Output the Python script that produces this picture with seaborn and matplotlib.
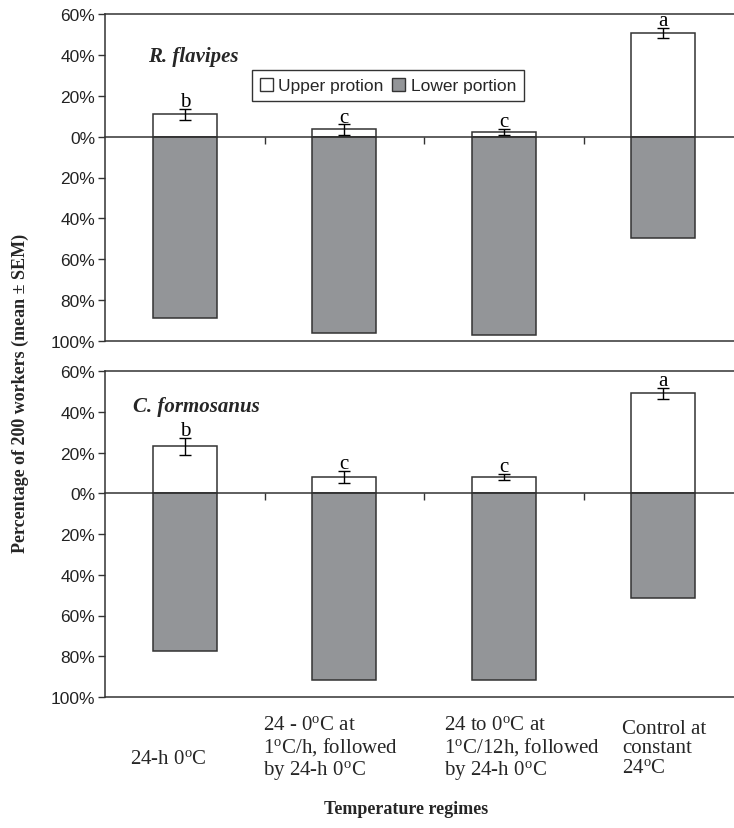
import matplotlib
matplotlib.use("Agg")
import matplotlib.pyplot as plt
import seaborn as sns
import pandas as pd
from matplotlib.patches import Patch
from matplotlib.ticker import FuncFormatter

# ---------------- data ----------------
regimes = ["24-h 0C", "24-0C 1C/h", "24-0C 1C/12h", "Control 24C"]
regime_labels = [
    "24-h 0$^{\\mathrm{o}}$C",
    "24 - 0$^{\\mathrm{o}}$C at\n1$^{\\mathrm{o}}$C/h, followed\nby 24-h 0$^{\\mathrm{o}}$C",
    "24 to 0$^{\\mathrm{o}}$C at\n1$^{\\mathrm{o}}$C/12h, followed\nby 24-h 0$^{\\mathrm{o}}$C",
    "Control at\nconstant\n24$^{\\mathrm{o}}$C",
]
rf_upper = [11.0, 3.5, 2.3, 50.8]
rf_upper_sem = [2.7, 2.5, 1.5, 2.3]
rf_lower = [88.6, 96.3, 96.9, 49.4]
rf_letters = ["b", "c", "c", "a"]

cf_upper = [23.0, 8.0, 8.0, 49.0]
cf_upper_sem = [4.1, 3.1, 1.6, 2.6]
cf_lower = [77.2, 91.6, 91.6, 51.2]
cf_letters = ["b", "c", "c", "a"]

species = ["R. flavipes", "C. formosanus"]
legend_labels = ["Upper protion", "Lower portion"]
y_ticks = [60, 40, 20, 0, -20, -40, -60, -80, -100]

# ---------------- style ----------------
sns.set_style("white")
plt.rcParams["font.family"] = ["Liberation Sans", "DejaVu Sans"]
plt.rcParams["mathtext.fontset"] = "custom"
plt.rcParams["mathtext.rm"] = "Liberation Serif"
plt.rcParams["mathtext.it"] = "Liberation Serif:italic"
plt.rcParams["mathtext.bf"] = "Liberation Serif:bold"

W, H = 734, 829
LINE = "#333333"
GRAY = "#939598"
fig = plt.figure(figsize=(W / 100, H / 100), dpi=100)


def px_axes(left, top, right, bottom):
    return fig.add_axes([left / W, 1 - bottom / H, (right - left) / W, (bottom - top) / H])


ax_top = px_axes(105, 15, 743, 342)
ax_bot = px_axes(105, 372, 743, 698)

panels = [
    (ax_top, rf_upper, rf_upper_sem, rf_lower, rf_letters, species[0], (0.067, 0.872)),
    (ax_bot, cf_upper, cf_upper_sem, cf_lower, cf_letters, species[1], (0.044, 0.893)),
]

for ax, up, sem, low, letters, sp, sp_pos in panels:
    df = pd.DataFrame({"regime": regimes, "upper": up, "lower": [-v for v in low]})
    sns.barplot(data=df, x="regime", y="upper", order=regimes, color="white",
                edgecolor=LINE, linewidth=1.1, width=0.4, saturation=1,
                errorbar=None, ax=ax, zorder=2)
    sns.barplot(data=df, x="regime", y="lower", order=regimes, color=GRAY,
                edgecolor=LINE, linewidth=1.1, width=0.4, saturation=1,
                errorbar=None, ax=ax, zorder=2)
    xs = list(range(len(regimes)))
    ax.errorbar(xs, up, yerr=sem, fmt="none", ecolor="black", elinewidth=1.0,
                capsize=4, capthick=1.0, zorder=3)
    for x, u, s, l in zip(xs, up, sem, letters):
        ax.text(x, u + s + 1.3, l, ha="center", va="baseline", fontsize=15,
                family="Liberation Serif", color="black", zorder=4)

    ax.set_ylim(-100, 60)
    ax.set_xlim(-0.5, len(regimes) - 0.5)
    ax.set_yticks(y_ticks)
    ax.yaxis.set_major_formatter(FuncFormatter(lambda v, p: f"{abs(v):.0f}%"))
    ax.set_xticks([0.5, 1.5, 2.5])
    ax.set_xticklabels([])
    ax.set_xlabel("")
    ax.set_ylabel("")

    ax.spines["bottom"].set_position(("data", 0))
    for s in ["left", "bottom", "top"]:
        ax.spines[s].set_visible(True)
        ax.spines[s].set_color(LINE)
        ax.spines[s].set_linewidth(1.1)
    ax.spines["right"].set_visible(False)
    ax.axhline(-100, color=LINE, lw=1.1, clip_on=False, zorder=5)

    ax.tick_params(axis="y", direction="out", length=5, width=1.0, color=LINE,
                   labelsize=12.5, pad=2, labelcolor="#222222", left=True)
    ax.tick_params(axis="x", direction="out", length=5, width=1.0, color=LINE,
                   bottom=True)

    ax.text(sp_pos[0], sp_pos[1], sp, transform=ax.transAxes, ha="left", va="center",
            fontsize=15, family="Liberation Serif", fontweight="bold", fontstyle="italic")

# legend
handles = [Patch(facecolor="white", edgecolor=LINE, linewidth=1.0),
           Patch(facecolor=GRAY, edgecolor=LINE, linewidth=1.0)]
leg = ax_top.legend(handles, legend_labels, ncol=2, loc="center",
                    bbox_to_anchor=(388 / W, 1 - 86.5 / H), bbox_transform=fig.transFigure,
                    frameon=True, fancybox=False, shadow=False, fontsize=12.5,
                    handlelength=0.75, handleheight=0.75, handletextpad=0.3,
                    columnspacing=0.5, borderpad=0.45, borderaxespad=0)
leg.get_frame().set_edgecolor("black")
leg.get_frame().set_linewidth(1.0)

# category labels (text boxes, left aligned)
label_left = [130, 263, 444, 622]
label_cy = [760, 749, 749, 749]
for lx, ly, txt in zip(label_left, label_cy, regime_labels):
    fig.text(lx / W, 1 - ly / H, txt, ha="left", va="center", multialignment="left",
             fontsize=15, family="Liberation Serif", linespacing=1.07)

fig.text(406 / W, 1 - 810 / H, "Temperature regimes", ha="center", va="center",
         fontsize=13, family="Liberation Serif", fontweight="bold")
fig.text(20 / W, 1 - 393 / H, "Percentage of 200 workers (mean ± SEM)", ha="center",
         va="center", rotation=90, fontsize=13, family="Liberation Serif", fontweight="bold")

fig.savefig("out.png", dpi=100)
